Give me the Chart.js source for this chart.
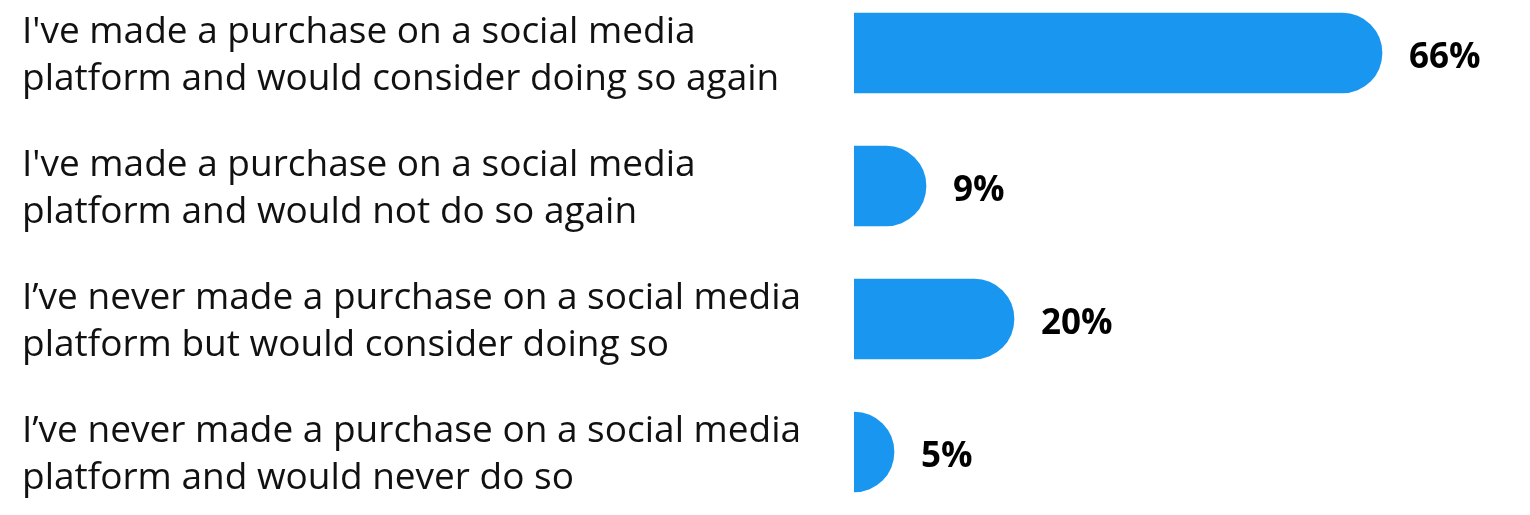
<!DOCTYPE html>
<html>
<head>
<meta charset="utf-8">
<script src="https://cdn.jsdelivr.net/npm/chart.js@4"></script>
<style>
  html, body { margin: 0; padding: 0; background: #fff; }
  #wrap { width: 1530px; height: 515px; }
</style>
</head>
<body>
<div id="wrap"><canvas id="purchaseChart"></canvas></div>
<script>
// answers (each label split in two lines as in the graphic)
const answers = [
    ["I've made a purchase on a social media", "platform and would consider doing so again"],
    ["I've made a purchase on a social media", "platform and would not do so again"],
    ["I\u2019ve never made a purchase on a social media", "platform but would consider doing so"],
    ["I\u2019ve never made a purchase on a social media", "platform and would never do so"]
];
const shares = [66, 9, 20, 5];

const barBlue = 'rgb(25, 150, 240)';
const hiddenStart = -5;  // bars start left of the axis and get clipped, so even tiny bars get a full round end

// draws the "66%" style labels just right of each bar
const valueLabels = {
    id: 'valueLabels',
    afterDatasetsDraw(chart) {
        const ctx = chart.ctx;
        const meta = chart.getDatasetMeta(0);
        ctx.save();
        ctx.font = 'bold 35px "Open Sans"';
        ctx.fillStyle = '#000';
        ctx.textAlign = 'left';
        ctx.textBaseline = 'middle';
        meta.data.forEach((bar, i) => {
            ctx.fillText(shares[i] + '%', bar.x + 27, bar.y + 5);
        });
        ctx.restore();
    }
};

const chartCtx = document.getElementById('purchaseChart').getContext('2d');
var myChart = new Chart(chartCtx, {
    type: 'bar',
    data: {
        labels: answers,
        datasets: [{
            data: shares.map(v => [hiddenStart, v]),
            backgroundColor: barBlue,
            borderRadius: { topLeft: 0, bottomLeft: 0, topRight: 40, bottomRight: 40 },
            borderSkipped: false,
            barThickness: 80,
            clip: { left: 0, top: false, right: false, bottom: false }
        }]
    },
    options: {
        indexAxis: 'y',
        responsive: true,
        maintainAspectRatio: false,
        animation: false,
        layout: {
            padding: { top: 53, bottom: 63, left: 22, right: 0 }
        },
        plugins: {
            legend: { display: false },
            tooltip: { enabled: false }
        },
        scales: {
            x: {
                min: 0,
                max: 84.5,
                display: false
            },
            y: {
                offset: false,
                border: { display: false },
                grid: { display: false },
                afterFit(scale) {
                    scale.width = 854 - 22;  // bars start at x=854
                },
                ticks: {
                    crossAlign: 'far',
                    padding: 0,
                    labelOffset: 3,
                    color: '#111',
                    font: { family: 'Open Sans', size: 37, lineHeight: 1.27 }
                }
            }
        }
    },
    plugins: [valueLabels]
});
</script>
</body>
</html>
